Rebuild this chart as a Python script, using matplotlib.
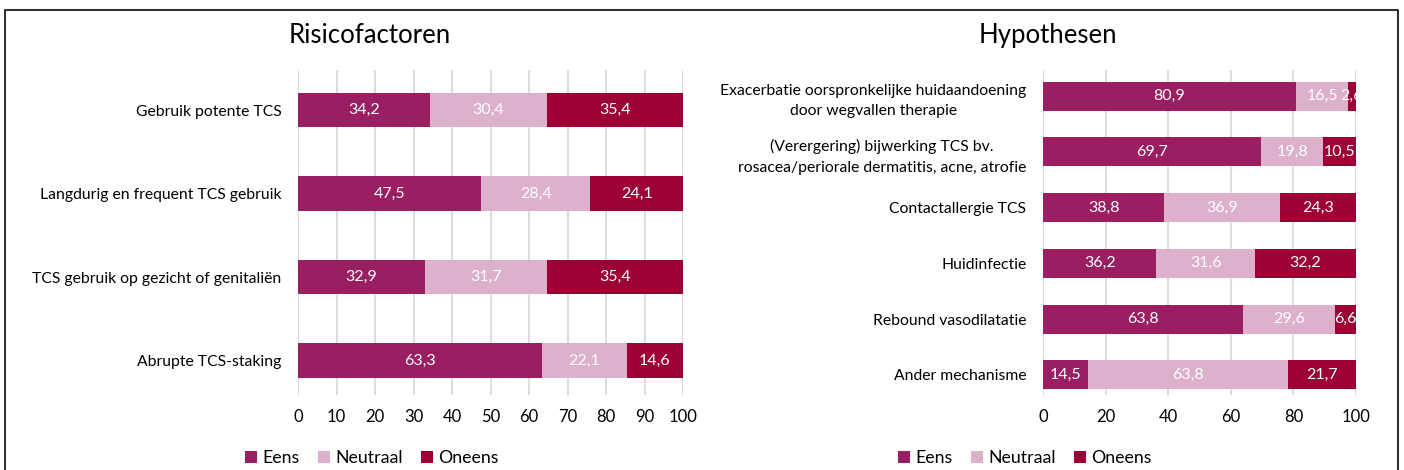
import matplotlib.pyplot as plt
from matplotlib.lines import Line2D
import numpy as np

plt.rcParams['font.family'] = ['Lato', 'DejaVu Sans']

risk_labels = ['Gebruik potente TCS', 'Langdurig en frequent TCS gebruik',
               'TCS gebruik op gezicht of genitaliën', 'Abrupte TCS-staking']
risk_eens = [34.2, 47.5, 32.9, 63.3]
risk_neutraal = [30.4, 28.4, 31.7, 22.1]
risk_oneens = [35.4, 24.1, 35.4, 14.6]

hyp_labels = ['Exacerbatie oorspronkelijke huidaandoening\ndoor wegvallen therapie',
              '(Verergering) bijwerking TCS bv.\nrosacea/periorale dermatitis, acne, atrofie',
              'Contactallergie TCS', 'Huidinfectie', 'Rebound vasodilatatie',
              'Ander mechanisme']
hyp_eens = [80.9, 69.7, 38.8, 36.2, 63.8, 14.5]
hyp_neutraal = [16.5, 19.8, 36.9, 31.6, 29.6, 63.8]
hyp_oneens = [2.6, 10.5, 24.3, 32.2, 6.6, 21.7]

series_names = ['Eens', 'Neutraal', 'Oneens']
colors = ['#9A1F62', '#DDB0CC', '#9C0036']


def fmt(v):
    return ('%.1f' % v).replace('.', ',')


def draw(ax, labels, data, height, step, title, ylim, title_x, legend_x):
    y = np.arange(len(labels))
    left = np.zeros(len(labels))
    for vals, name, c in zip(data, series_names, colors):
        vals = np.array(vals)
        ax.barh(y, vals, left=left, height=height, color=c, label=name, zorder=3)
        for yi, l, v in zip(y, left, vals):
            ax.text(l + v / 2, yi, fmt(v), ha='center', va='center', color='white',
                    fontsize=11.5, zorder=4)
        left += vals
    ax.set_yticks(y)
    ax.set_yticklabels(labels, fontsize=11.3, multialignment='center', linespacing=1.6)
    ax.set_xlim(0, 100)
    ax.set_xticks(np.arange(0, 101, step))
    ax.tick_params(axis='x', labelsize=12, length=0, pad=10)
    ax.tick_params(axis='y', length=0, pad=12)
    ax.set_ylim(*ylim)
    ax.grid(axis='x', color='#D9D9D9', linewidth=1.3, zorder=0)
    for s in ax.spines.values():
        s.set_visible(False)
    fig.text(title_x, 0.925, title, ha='center', va='center', fontsize=18.5)
    ax.legend(loc='center', bbox_to_anchor=(legend_x, 1 - 458 / 470),
              bbox_transform=fig.transFigure, ncol=3, frameon=False,
              fontsize=12.8, handlelength=0.7, handleheight=0.7, handletextpad=0.3,
              columnspacing=1.0)


fig = plt.figure(figsize=(14.04, 4.70), dpi=100)
ax1 = fig.add_axes([0.2123, 0.160, 0.2742, 0.691])
ax2 = fig.add_axes([0.7429, 0.160, 0.2229, 0.691])

draw(ax1, risk_labels, [risk_eens, risk_neutraal, risk_oneens], 0.41, 10,
     'Risicofactoren', (3.41, -0.48), 370 / 1404, 372 / 1404)
draw(ax2, hyp_labels, [hyp_eens, hyp_neutraal, hyp_oneens], 0.52, 20,
     'Hypothesen', (5.36, -0.47), 1048 / 1404, 1025 / 1404)

# frame around the whole picture (bottom edge cut off)
x0, x1, yt = 5 / 1404, 1398 / 1404, 1 - 10 / 470
fig.add_artist(Line2D([x0, x0, x1, x1], [0, yt, yt, 0], color='#333333', linewidth=1.5))

fig.savefig('out.png', dpi=100)
